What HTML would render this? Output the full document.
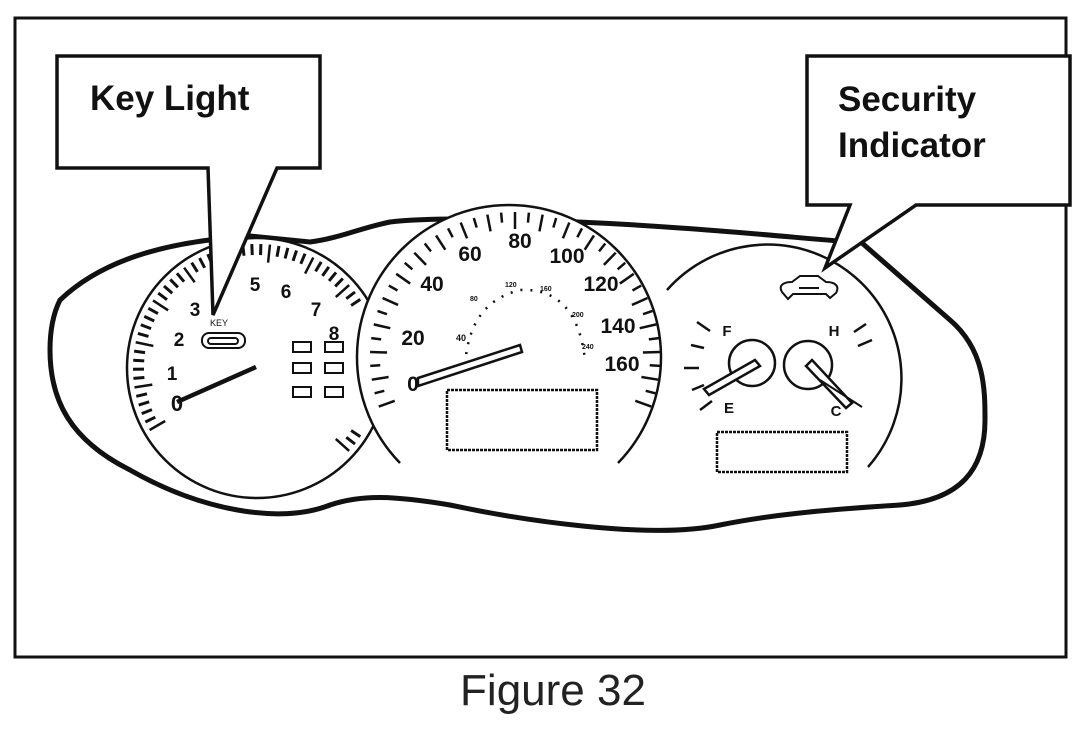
<!DOCTYPE html>
<html><head><meta charset="utf-8"><style>
html,body{margin:0;padding:0;background:#fff;}
svg{display:block;}
text{font-family:"Liberation Sans",sans-serif;}
</style></head><body>
<svg id="s" width="1085" height="733" viewBox="0 0 1085 733" xmlns="http://www.w3.org/2000/svg">
<rect x="0" y="0" width="1085" height="733" fill="#fff"/>
<rect x="15" y="18" width="1051" height="639" fill="none" stroke="#111" stroke-width="3"/>
<text x="553" y="705" font-size="44" text-anchor="middle" fill="#222">Figure 32</text>

<path d="M60,300 C100,262 160,242 250,236 L310,242 C340,238 360,228 390,222 C450,215 600,222 680,228 C740,232 800,238 862,243 L950,320 C985,350 985,390 985,420 C985,470 960,500 900,505 C820,510 770,515 720,525 C650,540 520,520 450,505 C390,495 360,495 330,505 C280,525 200,510 130,470 C70,440 50,400 50,350 C50,325 55,310 60,300 Z" fill="none" stroke="#111" stroke-width="5"/>

<g id="g" fill="none" stroke="#111" stroke-width="2.5">
<circle cx="257" cy="368" r="130" fill="#fff"/>
<path d="M400,463 A152,152 0 1 1 618,463" fill="#fff"/>
<path d="M667,290 A132,132 0 1 1 868,467"/>
<rect x="447" y="390" width="150" height="60" stroke-dasharray="3,1"/>
<rect x="717" y="432" width="130" height="40" stroke-dasharray="3,1"/>
<circle cx="752" cy="363" r="23"/>
<circle cx="808" cy="365" r="24"/>
</g>

<g fill="#111" font-weight="bold">
<text x="177" y="411" font-size="22" text-anchor="middle">0</text>
<text x="172" y="380" font-size="19" text-anchor="middle">1</text>
<text x="179" y="346" font-size="19" text-anchor="middle">2</text>
<text x="195" y="316" font-size="19" text-anchor="middle">3</text>
<text x="255" y="291" font-size="19" text-anchor="middle">5</text>
<text x="286" y="298" font-size="19" text-anchor="middle">6</text>
<text x="316" y="316" font-size="19" text-anchor="middle">7</text>
<text x="334" y="340" font-size="19" text-anchor="middle">8</text>
<text x="413" y="391" font-size="21" text-anchor="middle">0</text>
<text x="413" y="345" font-size="21" text-anchor="middle">20</text>
<text x="432" y="291" font-size="21" text-anchor="middle">40</text>
<text x="470" y="261" font-size="21" text-anchor="middle">60</text>
<text x="520" y="248" font-size="21" text-anchor="middle">80</text>
<text x="567" y="263" font-size="21" text-anchor="middle">100</text>
<text x="601" y="291" font-size="21" text-anchor="middle">120</text>
<text x="618" y="333" font-size="21" text-anchor="middle">140</text>
<text x="622" y="371" font-size="21" text-anchor="middle">160</text>
<text x="727" y="336" font-size="15" font-family="Liberation Serif" text-anchor="middle">F</text>
<text x="834" y="336" font-size="15" font-family="Liberation Serif" text-anchor="middle">H</text>
<text x="729" y="413" font-size="15" font-family="Liberation Serif" text-anchor="middle">E</text>
<text x="836" y="416" font-size="15" font-family="Liberation Serif" text-anchor="middle">C</text>
<text x="219" y="326" font-size="9" font-weight="normal" text-anchor="middle">KEY</text>
<text x="456" y="341" font-size="9">40</text>
<text x="470" y="301" font-size="7">80</text>
<text x="505" y="287" font-size="7">120</text>
<text x="540" y="291" font-size="7">160</text>
<text x="572" y="317" font-size="7">200</text>
<text x="582" y="349" font-size="7">240</text>
</g>

<g fill="none" stroke="#111" stroke-width="2">
<rect x="202" y="333" width="43" height="15" rx="7"/>
<rect x="208" y="338" width="30" height="6" rx="3"/>
<rect x="293" y="342" width="18" height="10"/><rect x="325" y="342" width="18" height="10"/>
<rect x="293" y="363" width="18" height="10"/><rect x="325" y="363" width="18" height="10"/>
<rect x="293" y="387" width="18" height="10"/><rect x="325" y="387" width="18" height="10"/>
<path d="M782,292 C778,285 784,282 792,282 L800,276 L818,276 L826,282 C835,282 840,286 836,293 L830,298 L826,294 L793,294 L788,299 Z"/>
<line x1="799" y1="288" x2="819" y2="288" stroke-width="2"/>
<path d="M465,364 C468,330 480,300 520,290 C560,288 580,315 585,360" stroke-dasharray="2,8" stroke-width="2.5"/>
</g>

<line x1="177" y1="402" x2="256" y2="367" stroke="#111" stroke-width="4.5"/>
<path d="M418,378 L520,345 L522,352 L418,386 Z" fill="#fff" stroke="#111" stroke-width="2.5"/>
<path d="M704,389 L755,360 L760,366 L709,395 Z" fill="#fff" stroke="#111" stroke-width="2.5"/>
<path d="M812,360 L852,403 L846,408 L806,366 Z" fill="#fff" stroke="#111" stroke-width="2.5"/>
<line x1="820" y1="380" x2="862" y2="407" stroke="#111" stroke-width="2"/>
<g stroke="#111" stroke-width="2.5">
<line x1="697" y1="322" x2="710" y2="331"/>
<line x1="691" y1="345" x2="704" y2="348"/>
<line x1="684" y1="368" x2="699" y2="368"/>
<line x1="692" y1="390" x2="704" y2="385"/>
<line x1="700" y1="410" x2="712" y2="401"/>
<line x1="854" y1="332" x2="866" y2="324"/>
<line x1="858" y1="346" x2="872" y2="340"/>
</g>

<path d="M57,56 L320,56 L320,168 L277,168 L213,315 L208,168 L57,168 Z" fill="#fff" stroke="#111" stroke-width="3.5" stroke-linejoin="miter"/>
<text x="90" y="110" font-size="35" font-weight="bold" fill="#111">Key Light</text>
<path d="M807,56 L1070,56 L1070,205 L916,205 L825,268 L850,205 L807,205 Z" fill="#fff" stroke="#111" stroke-width="3.5"/>
<text x="838" y="111" font-size="35" font-weight="bold" fill="#111">Security</text>
<text x="838" y="157" font-size="35" font-weight="bold" fill="#111">Indicator</text>
</svg>
<script>
(function(){
var s=document.getElementById('g');var ns='http://www.w3.org/2000/svg';
function tk(cx,cy,r1,r2,a,w){var l=document.createElementNS(ns,'line');var c=Math.cos(a*Math.PI/180),n=-Math.sin(a*Math.PI/180);
l.setAttribute('x1',cx+r1*c);l.setAttribute('y1',cy+r1*n);l.setAttribute('x2',cx+r2*c);l.setAttribute('y2',cy+r2*n);l.setAttribute('stroke-width',w);s.appendChild(l);}
var i;
for(i=0;i<=60;i++){var a=210-i*4.2;var p=Math.cos(a*Math.PI/180);var x=257+125*p;if(x>362)continue;tk(257,368,124,i%5==0?106:113,a,i%5==0?2.5:3);}
for(i=0;i<=40;i++){var a=200-i*5.5;tk(515,357,145,i%2==0?128:135,a,2.5);}
})();
</script>
</body></html>
